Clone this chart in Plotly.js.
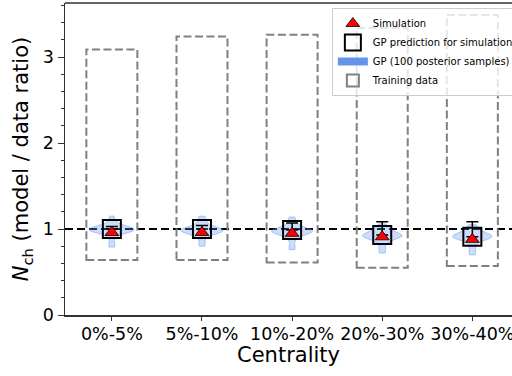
<!DOCTYPE html>
<html>
<head>
<meta charset="utf-8">
<script src="https://cdn.plot.ly/plotly-3.0.1.min.js"></script>
<style>html,body{margin:0;padding:0;overflow:hidden;background:#fff}</style>
</head>
<body>
<div id="chart" style="width:512px;height:376px"></div>
<script>
// ---- data ----
const categories = ["0%-5%", "5%-10%", "10%-20%", "20%-30%", "30%-40%"];
const simulation = [0.96, 0.96, 0.95, 0.91, 0.88];
const gpPrediction = [1.00, 1.00, 0.99, 0.93, 0.91];
const gpErrUp = [0.03, 0.04, 0.08, 0.155, 0.175];
const gpErrDown = [0.0, 0.0, 0.0, 0.0, 0.0];
const trainLow = [0.64, 0.64, 0.61, 0.55, 0.57];
const trainHigh = [3.09, 3.24, 3.26, 3.34, 3.49];
const posterior0 = [0.79, 0.83, 0.90, 0.94, 0.96, 0.97, 0.98, 0.98, 0.99, 0.99, 0.99, 1.00, 1.00, 1.00, 1.01, 1.01, 1.02, 1.03, 1.05, 1.09, 1.15];
const posterior1 = [0.80, 0.84, 0.90, 0.93, 0.95, 0.96, 0.97, 0.97, 0.98, 0.98, 0.98, 0.99, 0.99, 1.00, 1.00, 1.01, 1.02, 1.04, 1.07, 1.11, 1.15];
const posterior2 = [0.76, 0.80, 0.87, 0.91, 0.93, 0.95, 0.96, 0.96, 0.97, 0.97, 0.97, 0.98, 0.98, 0.99, 0.99, 1.00, 1.01, 1.03, 1.06, 1.10, 1.14];
const posterior3 = [0.72, 0.76, 0.82, 0.86, 0.88, 0.90, 0.91, 0.91, 0.92, 0.92, 0.92, 0.93, 0.93, 0.94, 0.95, 0.96, 0.98, 1.00, 1.03, 1.06];
const posterior4 = [0.70, 0.74, 0.80, 0.84, 0.87, 0.89, 0.90, 0.90, 0.91, 0.91, 0.91, 0.92, 0.92, 0.93, 0.94, 0.95, 0.97, 0.99, 1.02, 1.05];
const posteriors = [posterior0, posterior1, posterior2, posterior3, posterior4];
const yTickVals = [0, 1, 2, 3];
const yTickText = ["0", "1", "2", "3"];

// ---- build traces ----
const vx = [], vy = [];
posteriors.forEach((arr, i) => arr.forEach(v => { vx.push(categories[i]); vy.push(v); }));

const FONT = "DejaVu Sans, sans-serif";

const violin = {
  type: "violin", x: vx, y: vy, name: "GP (100 posterior samples)",
  showlegend: false,
  points: false, box: {visible: false}, meanline: {visible: false},
  spanmode: "hard", bandwidth: 0.035, scalemode: "width", width: 0.5,
  fillcolor: "rgba(100,149,237,0.32)",
  line: {color: "rgba(100,149,237,0.5)", width: 1},
  hoverinfo: "skip"
};

const violinLegend = {
  type: "scatter", mode: "lines", x: [null], y: [null],
  name: "GP (100 posterior samples)", legendrank: 3,
  line: {color: "rgb(100,149,237)", width: 8}
};

const gp = {
  type: "scatter", mode: "markers", x: categories, y: gpPrediction,
  name: "GP prediction for simulation", legendrank: 2,
  marker: {symbol: "square-open", size: 18, color: "#000", line: {width: 2, color: "#000"}},
  error_y: {type: "data", symmetric: false, array: gpErrUp, arrayminus: gpErrDown,
            color: "#000", thickness: 1.5, width: 6}
};

const sim = {
  type: "scatter", mode: "markers", x: categories, y: simulation,
  name: "Simulation", legendrank: 1,
  marker: {symbol: "triangle-up", size: 12, color: "#ff0000", line: {width: 0.8, color: "#000"}}
};

const halfW = 0.283;
const shapes = categories.map((c, i) => ({
  type: "rect", xref: "x", yref: "y", layer: "below",
  x0: i - halfW, x1: i + halfW, y0: trainLow[i], y1: trainHigh[i],
  line: {color: "#808080", width: 2, dash: "8px,3.5px"},
  fillcolor: "rgba(0,0,0,0)",
  name: "Training data", showlegend: i === 0, legendrank: 4, legendgroup: "train"
}));
shapes.push({
  type: "line", xref: "paper", yref: "y", layer: "below",
  x0: 0, x1: 1, y0: 1, y1: 1,
  line: {color: "#000", width: 2, dash: "8px,4px"}
});
// top spine of the frame (right spine lies outside the picture)
shapes.push({
  type: "line", xref: "paper", yref: "paper", layer: "above",
  x0: 0, x1: 1.01, y0: 1, y1: 1,
  line: {color: "#333", width: 1.5}
});

const layout = {
  width: 512, height: 376, autosize: false,
  margin: {l: 65, r: 0, t: 3, b: 61, autoexpand: false},
  paper_bgcolor: "#fff", plot_bgcolor: "#fff",
  font: {family: FONT, color: "#000"},
  showlegend: true,
  legend: {
    x: 0.597, y: 0.984, xanchor: "left", yanchor: "top",
    bgcolor: "rgba(255,255,255,0.8)", bordercolor: "#cccccc", borderwidth: 1,
    font: {family: FONT, size: 10, color: "#000"},
    traceorder: "normal", itemsizing: "trace"
  },
  xaxis: {
    type: "category", range: [-0.52, 4.44], automargin: false,
    showline: true, linecolor: "#333", linewidth: 1.5, mirror: false,
    showgrid: false, zeroline: false,
    ticks: "outside", ticklen: 4, tickcolor: "#333", tickangle: 0,
    ticklabelstandoff: -2,
    tickfont: {family: FONT, size: 17.5, color: "#000"},
    title: {text: "Centrality", font: {family: FONT, size: 21, color: "#000"}, standoff: 4}
  },
  yaxis: {
    range: [0, 3.63], automargin: false,
    showline: true, linecolor: "#333", linewidth: 1.5, mirror: false,
    showgrid: false, zeroline: false,
    tickmode: "array", tickvals: yTickVals, ticktext: yTickText,
    ticks: "outside", ticklen: 6, tickcolor: "#333",
    minor: {dtick: 0.2, ticks: "outside", ticklen: 3, tickcolor: "#333", showgrid: false},
    tickfont: {family: FONT, size: 17.5, color: "#000"},
    title: {text: "<i>N</i><sub>ch</sub> (model / data ratio)", font: {family: FONT, size: 21, color: "#000"}, standoff: 8}
  },
  shapes: shapes
};

Plotly.newPlot("chart", [violin, gp, sim, violinLegend], layout, {displayModeBar: false, staticPlot: true});
</script>
</body>
</html>
